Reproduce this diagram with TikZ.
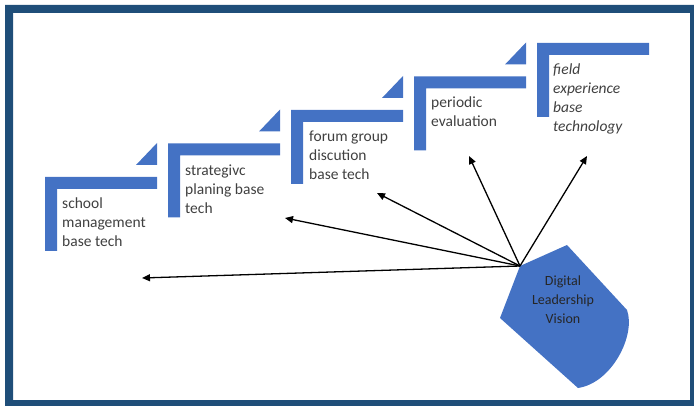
\documentclass[tikz,border=0pt]{standalone}
\usepackage{fontspec}
\setmainfont{Carlito}
\usetikzlibrary{arrows.meta}
\definecolor{framebl}{RGB}{31,78,121}
\definecolor{stepbl}{RGB}{68,114,196}
\definecolor{txtgray}{RGB}{64,64,64}
\begin{document}
\begin{tikzpicture}[x=1pt,y=-1pt,
  stepfill/.style={fill=stepbl},
  % anchored at the baseline of the last line
  steptext/.style={anchor=base west, align=left, inner sep=0pt, text=txtgray,
    font=\fontsize{15.5}{19}\selectfont},
  visiontext/.style={align=center, inner sep=0pt, text=black!85,
    font=\fontsize{14}{19}\selectfont},
  ray/.style={line width=1.3pt, -{Triangle[length=8pt,width=7pt]}}]
\useasboundingbox (0,0) rectangle (694,406);
% outer frame
\fill[framebl, even odd rule] (5,5) rectangle (694,406) (13,13) rectangle (690,400);

% staircase: L-shaped brackets with a corner triangle above each
\foreach \i in {0,...,4}{
  \pgfmathsetmacro{\L}{45+123*\i}
  \pgfmathsetmacro{\T}{177-33.5*\i}
  \fill[stepfill] (\L,\T) -- (\L+112,\T) -- (\L+112,\T+12) -- (\L+12,\T+12)
    -- (\L+12,\T+74) -- (\L,\T+74) -- cycle;
  \ifnum\i<4
    \fill[stepfill] (\L+112,\T-12) -- (\L+112,\T-34) -- (\L+91,\T-12) -- cycle;
  \fi
}

\node[steptext] (s1) at (62,247) {school\\management\\base tech};
\node[steptext] (s2) at (185,214) {strategivc\\planing base\\tech};
\node[steptext] (s3) at (309,180) {forum group\\discution\\base tech};
\node[steptext] (s4) at (431,127) {periodic\\evaluation};
\node[steptext, font=\fontsize{15.5}{19}\selectfont\itshape] (s5) at (553,132)
  {field\\experience\\base\\technology};

% vision shape
\coordinate (v) at (520,266);
\fill[stepbl] (v) -- (567,245) -- (627,310) .. controls (636,335) and (612,383) .. (578,388)
  -- (500,318) -- cycle;
\node[visiontext] (vt) at (563,300) {Digital\\Leadership\\Vision};

% rays from the vision to each step
\coordinate (t1) at (142,278);
\coordinate (t2) at (285,218);
\coordinate (t3) at (377,193);
\coordinate (t4) at (469,156);
\coordinate (t5) at (587,156);
\foreach \t in {t1,t2,t3,t4,t5}
  \draw[ray] (v) -- (\t);
\end{tikzpicture}
\end{document}
